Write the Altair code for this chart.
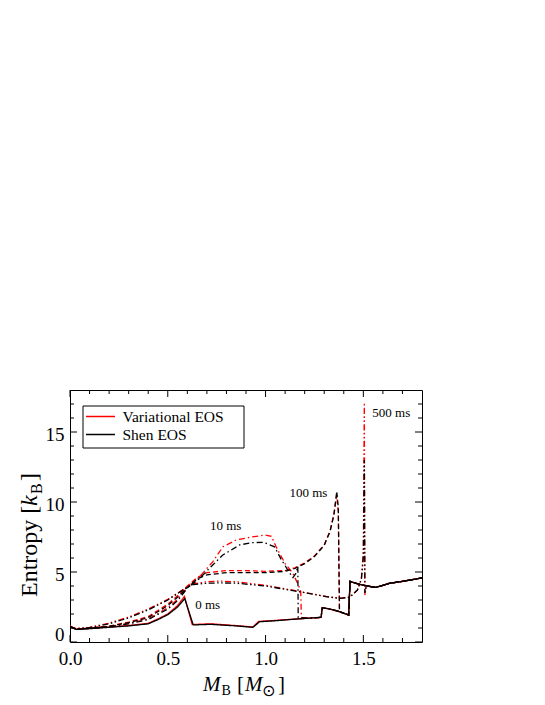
import altair as alt
import pandas as pd

# ---------------- data ----------------
eos_names = ["Variational EOS", "Shen EOS"]
eos_colors = ["#ff0000", "#000000"]
time_labels = ["0 ms", "10 ms", "100 ms", "500 ms"]
time_dashes = [[1, 0], [6, 3, 1.5, 3], [5, 3], [6, 2.5, 1.5, 2.5, 1.5, 2.5]]

# common outer (unshocked) profile pieces
mid_M = [1.22, 1.284, 1.29, 1.33, 1.378]
mid_S = [1.70, 1.76, 2.45, 2.35, 2.17]
late_M = [1.425, 1.432, 1.46, 1.497, 1.52, 1.565, 1.6, 1.633, 1.7, 1.75, 1.8]
late_S = [1.93, 4.33, 4.20, 4.07, 4.00, 3.90, 4.05, 4.19, 4.33, 4.45, 4.58]
tail_M = [1.565, 1.6, 1.633, 1.7, 1.75, 1.8]
tail_S = [3.90, 4.05, 4.19, 4.33, 4.45, 4.58]

# 0 ms
shen0_M = [0.0, 0.03, 0.1, 0.2, 0.3, 0.4, 0.45, 0.5, 0.55, 0.587, 0.63, 0.72, 0.85, 0.935, 0.97, 1.05, 1.14]
shen0_S = [1.10, 0.90, 0.95, 1.05, 1.15, 1.30, 1.60, 1.95, 2.50, 3.10, 1.22, 1.26, 1.15, 1.05, 1.45, 1.52, 1.62]
var0_M = [0.0, 0.03, 0.1, 0.2, 0.3, 0.4, 0.45, 0.5, 0.55, 0.585, 0.625, 0.72, 0.85, 0.935, 0.965, 1.05, 1.14]
var0_S = [1.15, 0.92, 0.97, 1.07, 1.18, 1.33, 1.65, 2.00, 2.60, 3.25, 1.25, 1.30, 1.17, 1.07, 1.47, 1.54, 1.63]

# 10 ms
shen10_M = [0.0, 0.03, 0.1, 0.2, 0.3, 0.4, 0.5, 0.55, 0.6, 0.66, 0.73, 0.78, 0.867, 0.93, 0.99,
            1.046, 1.08, 1.12, 1.14, 1.155, 1.165, 1.167]
shen10_S = [1.10, 0.92, 0.97, 1.10, 1.30, 1.60, 2.35, 2.95, 3.85, 4.50, 5.50, 6.20, 6.93, 7.10, 7.12,
            6.80, 5.90, 5.00, 4.60, 4.90, 5.40, 1.75]
var10_M = [0.0, 0.03, 0.1, 0.2, 0.3, 0.4, 0.5, 0.55, 0.6, 0.663, 0.731, 0.782, 0.85, 0.93, 1.0,
           1.03, 1.054, 1.1, 1.14, 1.17, 1.18, 1.183]
var10_S = [1.12, 0.93, 0.99, 1.12, 1.33, 1.65, 2.45, 3.05, 3.90, 4.67, 5.74, 6.80, 7.29, 7.50, 7.64,
           7.55, 6.80, 5.60, 4.90, 4.00, 3.60, 1.75]

# 100 ms
t100_M = [0.0, 0.03, 0.1, 0.2, 0.3, 0.4, 0.5, 0.55, 0.6, 0.65, 0.7, 0.8, 0.9, 1.0, 1.1, 1.15,
          1.2, 1.25, 1.3, 1.33, 1.35, 1.364, 1.372, 1.378]
shen100_S = [1.10, 0.91, 0.97, 1.12, 1.38, 1.75, 2.60, 3.20, 3.90, 4.50, 4.80, 4.95, 4.95, 4.95, 5.05, 5.25,
             5.60, 6.10, 6.90, 7.90, 9.10, 10.75, 9.60, 2.17]
var100_S = [1.12, 0.92, 0.99, 1.14, 1.42, 1.82, 2.70, 3.30, 4.00, 4.60, 4.95, 5.10, 5.10, 5.05, 5.10, 5.30,
            5.65, 6.15, 6.95, 7.95, 9.20, 10.50, 9.30, 2.17]

# 500 ms
t500_M = [0.0, 0.03, 0.1, 0.2, 0.3, 0.4, 0.5, 0.59, 0.63, 0.7, 0.765, 0.85, 1.0, 1.14, 1.31, 1.378,
          1.43, 1.47, 1.49, 1.5, 1.505, 1.508, 1.515]
shen500_S = [1.05, 0.95, 1.02, 1.30, 1.72, 2.29, 3.00, 3.83, 4.10, 4.20, 4.22, 4.20, 4.00, 3.67, 3.24, 3.12,
             3.19, 3.71, 4.50, 6.00, 13.0, 3.50, 4.00]
var500_S = [1.08, 0.97, 1.05, 1.35, 1.78, 2.35, 3.05, 3.85, 4.15, 4.30, 4.35, 4.30, 4.05, 3.70, 3.25, 3.12,
            3.20, 3.72, 4.50, 6.50, 17.1, 3.35, 4.00]

ann_labels = ["0 ms", "10 ms", "100 ms", "500 ms"]
ann_M = [0.704, 0.796, 1.219, 1.643]
ann_S = [2.64, 8.29, 10.64, 16.36]

x_major = [0.0, 0.5, 1.0, 1.5]
x_minor = [0.1, 0.2, 0.3, 0.4, 0.6, 0.7, 0.8, 0.9, 1.1, 1.2, 1.3, 1.4, 1.6, 1.7]
y_major = [0, 5, 10, 15]
y_minor = [1, 2, 3, 4, 6, 7, 8, 9, 11, 12, 13, 14, 16, 17]

# ---------------- build table ----------------
series = [
    ("Variational EOS", "0 ms", var0_M + mid_M + late_M, var0_S + mid_S + late_S),
    ("Shen EOS", "0 ms", shen0_M + mid_M + late_M, shen0_S + mid_S + late_S),
    ("Variational EOS", "10 ms", var10_M + mid_M + late_M, var10_S + mid_S + late_S),
    ("Shen EOS", "10 ms", shen10_M + mid_M + late_M, shen10_S + mid_S + late_S),
    ("Variational EOS", "100 ms", t100_M + late_M, var100_S + late_S),
    ("Shen EOS", "100 ms", t100_M + late_M, shen100_S + late_S),
    ("Variational EOS", "500 ms", t500_M + tail_M, var500_S + tail_S),
    ("Shen EOS", "500 ms", t500_M + tail_M, shen500_S + tail_S),
]
rows = []
for eos, t, ms, ss in series:
    for i, (m, s) in enumerate(zip(ms, ss)):
        rows.append({"M": m, "S": s, "eos": eos, "time": t, "idx": i})
df = pd.DataFrame(rows)

W, H = 352, 252
SERIF = "Liberation Serif"

xscale = alt.Scale(domain=[0, 1.8], nice=False, zero=False)
yscale = alt.Scale(domain=[0, 18], nice=False)

xaxis = alt.Axis(values=x_major, format=".1f", labelFont=SERIF, labelFontSize=19, labelColor="black",
                 ticks=False, domain=False, grid=False, labelPadding=7, labelFlush=False, title=None)
yaxis = alt.Axis(values=y_major, format="d", labelFont=SERIF, labelFontSize=19, labelColor="black",
                 ticks=False, domain=False, grid=False, labelPadding=6, labelFlush=True,
                 labelOffset=2, title=None)

color = alt.Color("eos:N", scale=alt.Scale(domain=eos_names, range=eos_colors), legend=None)
dash = alt.StrokeDash("time:N", scale=alt.Scale(domain=time_labels, range=time_dashes), legend=None)


def lines(eos):
    return alt.Chart(df[df.eos == eos]).mark_line(strokeWidth=1.3, clip=True).encode(
        x=alt.X("M:Q", scale=xscale, axis=xaxis),
        y=alt.Y("S:Q", scale=yscale, axis=yaxis),
        color=color, strokeDash=dash, detail="time:N", order="idx:Q")


def xticks(vals, length):
    d = pd.DataFrame({"M": vals})
    b = alt.Chart(d).mark_rule(color="black", strokeWidth=1).encode(
        x=alt.X("M:Q", scale=xscale, axis=xaxis), y=alt.value(H), y2=alt.value(H - length))
    t = alt.Chart(d).mark_rule(color="black", strokeWidth=1).encode(
        x=alt.X("M:Q", scale=xscale, axis=xaxis), y=alt.value(0), y2=alt.value(length))
    return [b, t]


def yticks(vals, length):
    d = pd.DataFrame({"S": vals})
    l = alt.Chart(d).mark_rule(color="black", strokeWidth=1).encode(
        y=alt.Y("S:Q", scale=yscale, axis=yaxis), x=alt.value(0), x2=alt.value(length))
    r = alt.Chart(d).mark_rule(color="black", strokeWidth=1).encode(
        y=alt.Y("S:Q", scale=yscale, axis=yaxis), x=alt.value(W), x2=alt.value(W - length))
    return [l, r]


ann = alt.Chart(pd.DataFrame({"M": ann_M, "S": ann_S, "label": ann_labels})).mark_text(
    font=SERIF, fontSize=13, color="black", align="center", baseline="middle").encode(
    x=alt.X("M:Q", scale=xscale, axis=xaxis), y=alt.Y("S:Q", scale=yscale, axis=yaxis), text="label:N")

one = pd.DataFrame({"a": [0]})


def label(txt, x, y, size, font=SERIF, italic=False, angle=0, align="left"):
    kw = dict(text=txt, font=font, fontSize=size, color="black", align=align,
              baseline="alphabetic", x=x, y=y)
    if italic:
        kw["fontStyle"] = "italic"
    if angle:
        kw["angle"] = angle
    return alt.Chart(one).mark_text(**kw)


titles = [
    # x title: M_B [M_sun]
    label("M", 133, 301, 21, italic=True),
    label("B", 151.5, 305, 14),
    label("[", 167, 301, 21),
    label("M", 175, 301, 21, italic=True),
    label("\u2299", 192, 306, 16, font="DejaVu Sans"),
    label("]", 208, 301, 21),
    # y title: Entropy [k_B]
    label("Entropy [", -33, 207, 24, angle=270),
    label("k", -33, 116, 24, italic=True, angle=270),
    label("B", -28, 104, 16, angle=270),
    label("]", -33, 91, 24, angle=270),
]

# legend (box, coloured line samples and labels)
legend_box = alt.Chart(one).mark_rect(fill="white", stroke="black", strokeWidth=1).encode(
    x=alt.value(13), x2=alt.value(174), y=alt.value(16), y2=alt.value(58))
legend_items = []
for k, (name, col) in enumerate(zip(eos_names, eos_colors)):
    yy = 26.5 + 18 * k
    legend_items.append(alt.Chart(one).mark_rule(color=col, strokeWidth=1.5).encode(
        x=alt.value(16), x2=alt.value(45), y=alt.value(yy)))
    legend_items.append(label(name, 52.5, yy + 5.5, 15.5))

layers = [lines("Variational EOS"), lines("Shen EOS"), ann]
layers += xticks(x_major, 7) + xticks(x_minor, 4) + yticks(y_major, 7) + yticks(y_minor, 4)
layers += [legend_box] + legend_items
layers += titles

chart = alt.layer(*layers).properties(
    width=W, height=H,
    padding={"left": 62, "top": 382, "right": 20, "bottom": 62},
    autosize=alt.AutoSizeParams(type="none"),
).configure(font=SERIF).configure_view(stroke="black", strokeWidth=1)

chart.save("out.html", embed_options={"renderer": "svg", "actions": False})
